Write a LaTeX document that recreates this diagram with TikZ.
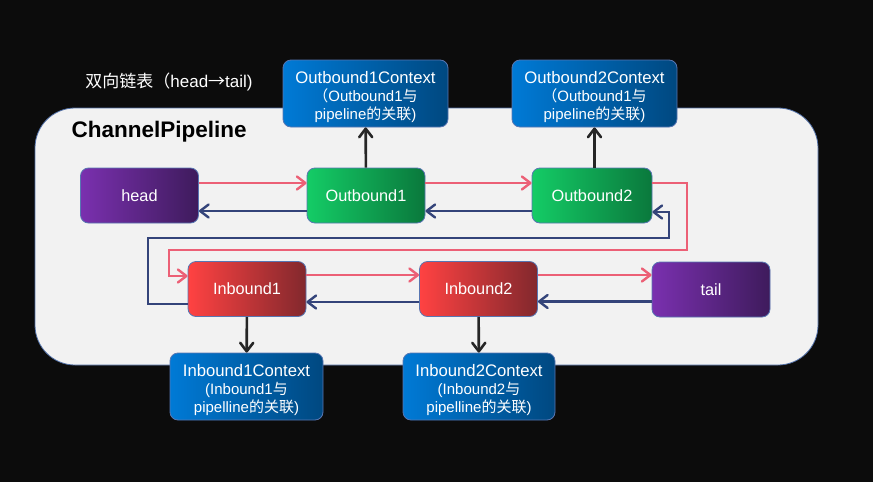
\documentclass[tikz,border=0pt]{standalone}
\usepackage{fontspec}
\setmainfont{Liberation Sans}
\newfontfamily\cjk{Noto Sans CJK SC}
\usetikzlibrary{arrows.meta}
\tikzset{>={Straight Barb[length=8.5pt,width=13pt,round]}}

\definecolor{bg}{RGB}{12,12,12}
\definecolor{panel}{RGB}{242,242,242}
\definecolor{frame}{RGB}{80,110,165}
\definecolor{boxline}{RGB}{88,118,178}
\definecolor{endL}{RGB}{122,48,175}
\definecolor{endR}{RGB}{62,27,92}
\definecolor{outL}{RGB}{20,204,102}
\definecolor{outR}{RGB}{10,120,60}
\definecolor{inL}{RGB}{255,66,66}
\definecolor{inR}{RGB}{130,40,45}
\definecolor{ctxL}{RGB}{0,122,214}
\definecolor{ctxR}{RGB}{0,72,128}
\definecolor{fwdcol}{RGB}{236,96,118}
\definecolor{bwdcol}{RGB}{52,68,122}
\definecolor{linkcol}{RGB}{38,38,38}

\newcommand{\ctxhead}[1]{{\fontsize{16.7}{18.5}\selectfont #1}}

\tikzset{
  box/.style={draw=boxline, line width=0.8pt, rounded corners=8pt,
    minimum width=118pt, minimum height=55pt, inner sep=0pt,
    text=white, font=\fontsize{16.3}{18}\selectfont},
  endbox/.style={box, left color=endL, right color=endR},
  outbox/.style={box, left color=outL, right color=outR},
  inbox/.style={box, left color=inL, right color=inR},
  ctxbox/.style={box, left color=ctxL, right color=ctxR, minimum width=165pt,
    minimum height=67pt, align=center, font=\fontsize{15}{18}\selectfont,
    text height=54pt, text depth=3pt},
  fwd/.style={->, draw=fwdcol, line width=2.4pt},
  bwd/.style={->, draw=bwdcol, line width=2.4pt},
  link/.style={->, draw=linkcol, line width=2.6pt},
}

\begin{document}
\begin{tikzpicture}[x=1pt,y=-1pt]
  \useasboundingbox (0,0) rectangle (873,482);
  \fill[bg] (0,0) rectangle (873,482);
  % title and pipeline frame
  \node[text=white, font=\fontsize{17}{19}\selectfont] (title) at (169,82)
    {{\cjk 双向链表（}head{\cjk →}tail)};
  \draw[frame, fill=panel, line width=0.8pt, rounded corners=40pt] (35,108) rectangle (818,365);
  \node[anchor=west, font=\bfseries\fontsize{22.5}{25}\selectfont] (pipe) at (68,132) {ChannelPipeline};
  % handlers
  \node[endbox] (head) at (139.5,195.5) {head};
  \node[outbox] (ob1) at (366,195.5) {Outbound1};
  \node[outbox, minimum width=120pt] (ob2) at (592,195.5) {Outbound2};
  \node[inbox] (ib1) at (247,289) {Inbound1};
  \node[inbox] (ib2) at (478.5,289) {Inbound2};
  \node[endbox] (tail) at (711,289.5) {tail};
  % contexts
  \node[ctxbox] (ob1ctx) at (365.5,93.5)
    {\ctxhead{Outbound1Context}\\{\cjk （}Outbound1{\cjk 与}\\pipeline{\cjk 的关联})};
  \node[ctxbox] (ob2ctx) at (594.5,93.5)
    {\ctxhead{Outbound2Context}\\{\cjk （}Outbound1{\cjk 与}\\pipeline{\cjk 的关联})};
  \node[ctxbox, minimum width=153pt] (ib1ctx) at (246.5,386.5)
    {\ctxhead{Inbound1Context}\\(Inbound1{\cjk 与}\\pipelline{\cjk 的关联})};
  \node[ctxbox, minimum width=152pt] (ib2ctx) at (479,386.5)
    {\ctxhead{Inbound2Context}\\(Inbound2{\cjk 与}\\pipelline{\cjk 的关联})};
  % turning points
  \coordinate (wrapR) at (687,250);
  \coordinate (wrapL) at (169,276);
  \coordinate (backL) at (148,238);
  \coordinate (backR) at (669,212);
  % forward links
  \draw[fwd] ([yshift=12.5pt]head.east) -- ([yshift=12.5pt]ob1.west);
  \draw[fwd] ([yshift=12.5pt]ob1.east) -- ([yshift=12.5pt]ob2.west);
  \draw[fwd] ([yshift=12.5pt]ob2.east) -| (wrapR) -| (wrapL) -- ([yshift=13pt]ib1.west);
  \draw[fwd] ([yshift=14pt]ib1.east) -- ([yshift=14pt]ib2.west);
  \draw[fwd] ([yshift=14pt]ib2.east) -- ([yshift=14.5pt]tail.west);
  % backward links
  \draw[bwd] ([yshift=-15.5pt]ob1.west) -- ([yshift=-15.5pt]head.east);
  \draw[bwd] ([yshift=-15.5pt]ob2.west) -- ([yshift=-15.5pt]ob1.east);
  \draw[bwd] ([yshift=-15pt]ib1.west) -| (backL) -| (backR) -- ([yshift=-16.5pt]ob2.east);
  \draw[bwd] ([yshift=-13pt]ib2.west) -- ([yshift=-13pt]ib1.east);
  \draw[bwd] ([yshift=-12pt]tail.west) -- ([yshift=-12.5pt]ib2.east);
  % handler to context
  \draw[link] (ob1) -- (ob1ctx);
  \draw[link] (ob2.north -| ob2ctx) -- (ob2ctx);
  \draw[link] (ib1) -- (ib1ctx);
  \draw[link] (ib2) -- (ib2ctx);
\end{tikzpicture}
\end{document}
